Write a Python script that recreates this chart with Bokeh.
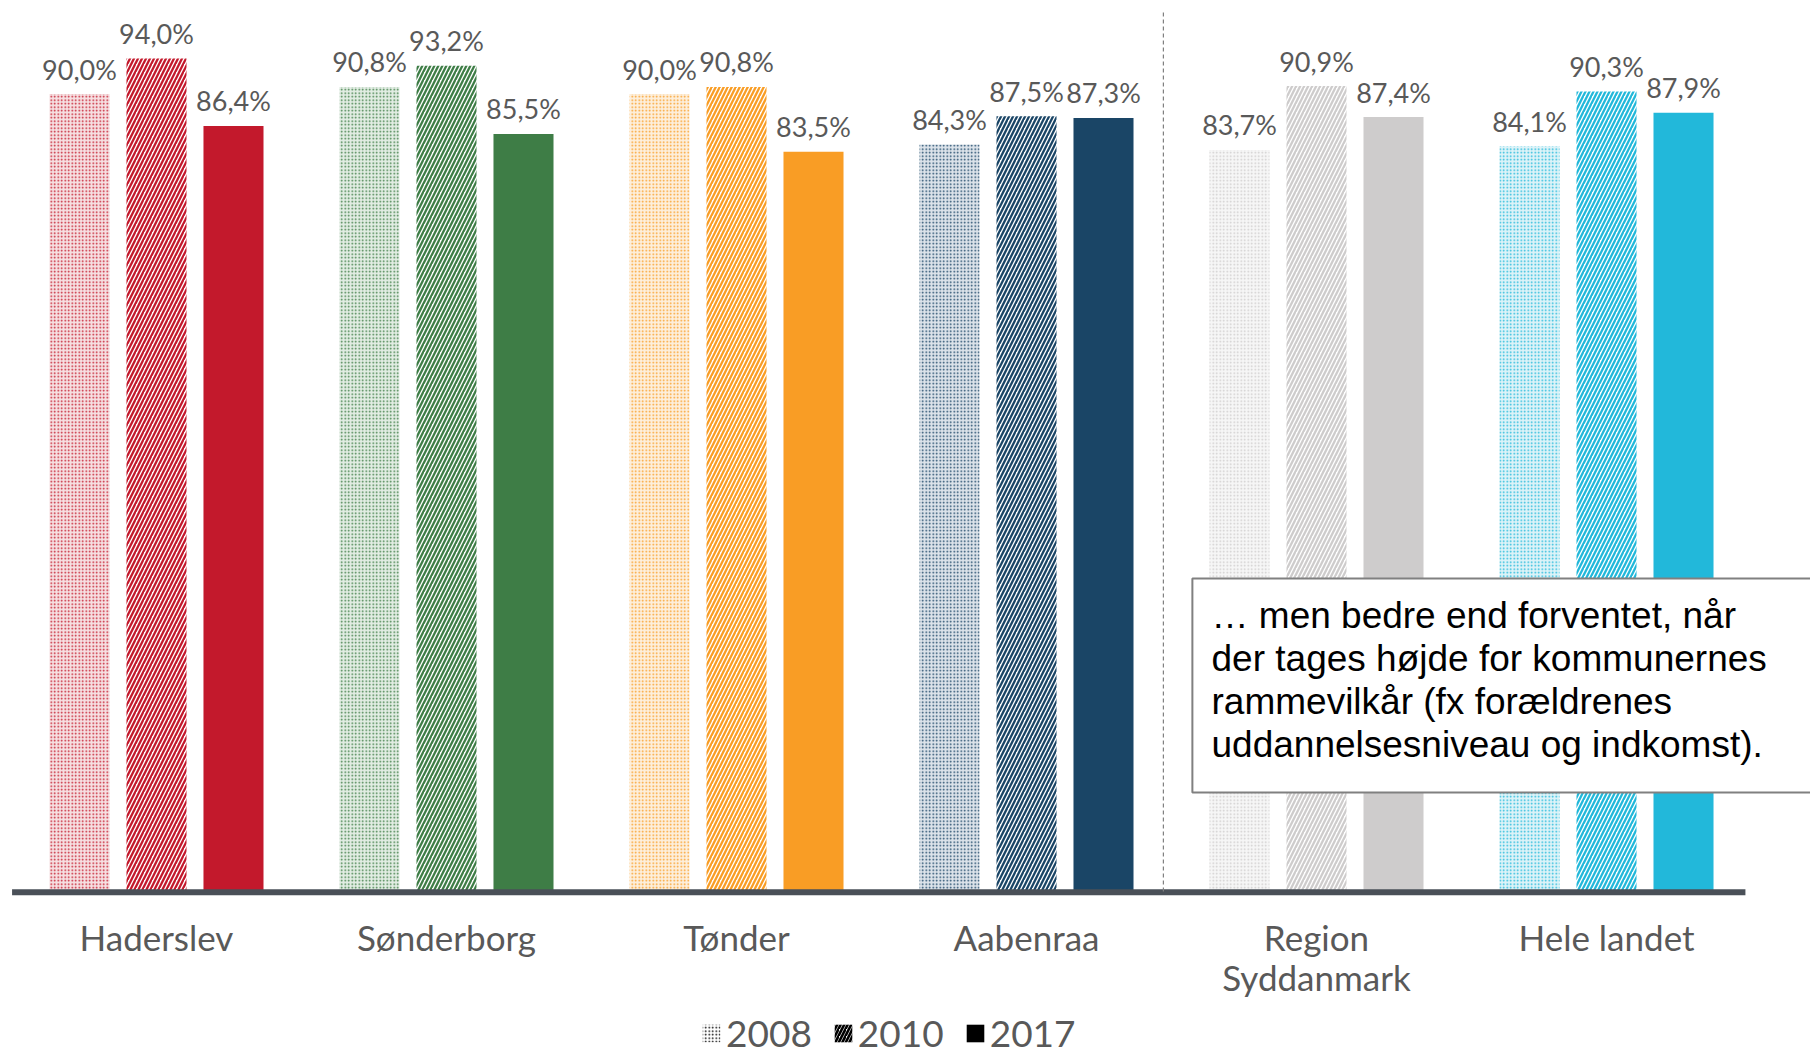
from bokeh.plotting import figure
from bokeh.models import ColumnDataSource, Range1d, Legend, LegendItem
from bokeh.core.properties import value
from bokeh.embed import file_html
from bokeh.resources import INLINE

# ---- data ----
categories = ["Haderslev", "Sønderborg", "Tønder", "Aabenraa", "Region\nSyddanmark", "Hele landet"]
years = ["2008", "2010", "2017"]
v2008 = [90.0, 90.8, 90.0, 84.3, 83.7, 84.1]
v2010 = [94.0, 93.2, 90.8, 87.5, 90.9, 90.3]
v2017 = [86.4, 85.5, 83.5, 87.3, 87.4, 87.9]
colors = ["#C3192C", "#3E7D46", "#F99D25", "#1A4566", "#CECCCC", "#22B8DA"]
tints = ["#F6E0E2", "#E2EDE3", "#FDEFDC", "#DCE3EA", "#F6F6F6", "#DDF3F8"]
note = ("… men bedre end forventet, når\nder tages højde for kommunernes\n"
        "rammevilkår (fx forældrenes\nuddannelsesniveau og indkomst).")

LABEL_FONT = value("Lato")
GRAY = "#595959"

p = figure(width=1810, height=1054, output_backend="svg", toolbar_location=None,
           x_axis_location=None, y_axis_location=None,
           x_range=Range1d(-0.5379, 5.7034), y_range=Range1d(-18.40, 100.56),
           min_border=0, outline_line_color=None)
p.xgrid.visible = False
p.ygrid.visible = False
p.background_fill_color = "white"

xs = list(range(len(categories)))
off = 0.2655
w = 0.207

def fmt(v):
    return f"{v:.1f}".replace(".", ",") + "%"

series = [(v2008, -off, "."), (v2010, 0.0, "/"), (v2017, off, None)]
for vals, dx, hatch in series:
    src = ColumnDataSource(dict(
        x=[x + dx for x in xs], top=vals,
        color=colors, tint=tints,
        label=[fmt(v) for v in vals]))
    if hatch == ".":
        p.vbar(x="x", top="top", bottom=0, width=w, source=src,
               fill_color="tint", line_color=None,
               hatch_pattern=".", hatch_color="color", hatch_scale=3.5, hatch_weight=2.1)
    elif hatch == "/":
        p.vbar(x="x", top="top", bottom=0, width=w, source=src,
               fill_color="white", line_color=None,
               hatch_pattern="/", hatch_color="color", hatch_scale=8, hatch_weight=2.3)
    else:
        p.vbar(x="x", top="top", bottom=0, width=w, source=src,
               fill_color="color", line_color=None)
    p.text(x="x", y="top", text="label", source=src, text_align="center",
           text_baseline="middle", y_offset=-25, text_font=LABEL_FONT,
           text_font_size="27px", text_color=GRAY)

# baseline
p.segment(x0=[-0.498], y0=[-0.1], x1=[5.479], y1=[-0.1], line_width=6, line_color="#4A5058")

# dashed separator
p.segment(x0=[3.472], y0=[0], x1=[3.472], y1=[99.5], line_width=1.2,
          line_color="#808080", line_dash="4 3")

# category labels
cat_src = ColumnDataSource(dict(x=xs, y=[0] * len(xs), text=categories))
p.text(x="x", y="y", text="text", source=cat_src, text_align="center",
       text_baseline="top", y_offset=25, text_font=LABEL_FONT, text_font_size="35px",
       text_color=GRAY, text_line_height=0.95)

# note box
p.quad(left=[3.572], right=[6.0], top=[35.33], bottom=[11.17],
       fill_color="white", line_color="#808080", line_width=2)
p.text(x=[3.638], y=[23.9], text=[note], text_align="left", text_baseline="middle",
       text_font=value("Liberation Sans"), text_font_size="37px", text_color="black",
       text_line_height=1.05)

# legend (black swatches) - proxy renderers placed outside the visible range
proxy = dict(x=[-10], top=[0])
r08 = p.vbar(x="x", top="top", width=0.1, source=ColumnDataSource(proxy),
             fill_color="white", line_color=None, hatch_pattern=".", hatch_color="black",
             hatch_scale=3.5, hatch_weight=2.1)
r10 = p.vbar(x="x", top="top", width=0.1, source=ColumnDataSource(proxy),
             fill_color="white", line_color=None, hatch_pattern="/", hatch_color="black",
             hatch_scale=7, hatch_weight=2.6)
r17 = p.vbar(x="x", top="top", width=0.1, source=ColumnDataSource(proxy),
             fill_color="black", line_color=None)
legend = Legend(items=[LegendItem(label=years[0], renderers=[r08]),
                       LegendItem(label=years[1], renderers=[r10]),
                       LegendItem(label=years[2], renderers=[r17])],
                orientation="horizontal", location=(700, -1),
                background_fill_alpha=0, border_line_alpha=0, padding=0, margin=0,
                spacing=20, glyph_width=22, glyph_height=22, label_standoff=4,
                label_text_font="Lato", label_text_font_size="37px",
                label_text_color=GRAY)
p.add_layout(legend)

open("out.html", "w").write(file_html(p, INLINE))
